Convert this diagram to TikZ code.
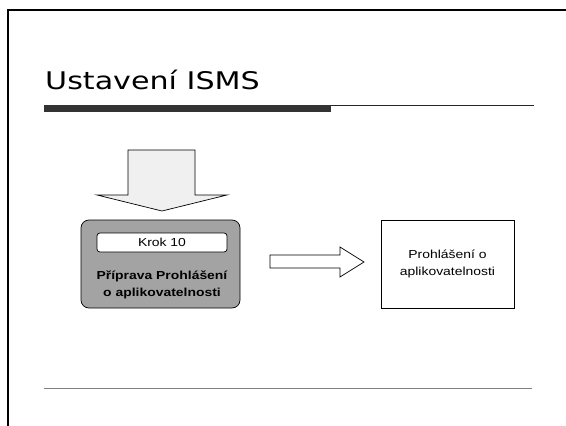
\documentclass[tikz,border=0pt]{standalone}
\usepackage{fontspec}
\newfontfamily\titlefont[FakeStretch=1.24]{DejaVu Sans}
\newfontfamily\boxfont[FakeStretch=1.2]{Liberation Sans}
\definecolor{boxgray}{HTML}{A3A3A3}
\definecolor{bardark}{HTML}{333333}
\definecolor{arrowfill}{HTML}{F0F0F0}
\tikzset{
  frameline/.style={line width=2pt, black},
  blockarrow/.style={draw=black, line width=0.7pt, line join=miter},
  boxtext/.style={font=\boxfont\fontsize{11.6}{16}\selectfont, align=center, inner sep=0pt},
}
\begin{document}
\begin{tikzpicture}[x=1pt,y=-1pt]
\useasboundingbox (0,0) rectangle (566,426);
% slide frame
\draw[frameline] (7.7,426) -- (7.7,10.3) -- (566,10.3);
% title
\node[anchor=base west, inner sep=0pt, font=\titlefont\fontsize{24.3}{29}\selectfont] (title) at (45,89.3) {Ustavení ISMS};
\fill[bardark] (44,105) rectangle (331,112);
\draw[line width=1.2pt, black!85] (331,105.6) -- (534,105.6);
% bottom rule
\draw[line width=1.5pt, black!50] (44,388.7) -- (532,388.7);
% down arrow
\draw[blockarrow, fill=arrowfill] (128,150) -- (195,150) -- (195,195) -- (227,195) -- (162,211) -- (97,195) -- (128,195) -- cycle;
% grey box
\node[draw=black, line width=0.7pt, fill=boxgray, rounded corners=8pt, minimum width=159pt, minimum height=88pt, inner sep=0pt] (step) at (160.5,264) {};
\node[draw=black, line width=0.7pt, fill=white, rounded corners=3pt, minimum width=130pt, minimum height=19pt, inner sep=0pt, boxtext] (krok) at (162,242.5) {Krok 10};
\node[boxtext, font=\boxfont\bfseries\fontsize{11.6}{16.5}\selectfont] (prep) at (162,285) {Příprava Prohlášení\\o aplikovatelnosti};
% right arrow
\draw[blockarrow, fill=white] (270,255) -- (340,255) -- (340,247) -- (364,262) -- (340,277) -- (340,268) -- (270,268) -- cycle;
% right box
\node[draw=black, line width=0.7pt, fill=white, minimum width=133pt, minimum height=88pt, inner sep=0pt] (soa) at (447.5,264) {};
\node[boxtext, font=\boxfont\fontsize{11.6}{17}\selectfont] (soatext) at (soa.center) {Prohlášení o\\aplikovatelnosti};
\end{tikzpicture}
\end{document}
